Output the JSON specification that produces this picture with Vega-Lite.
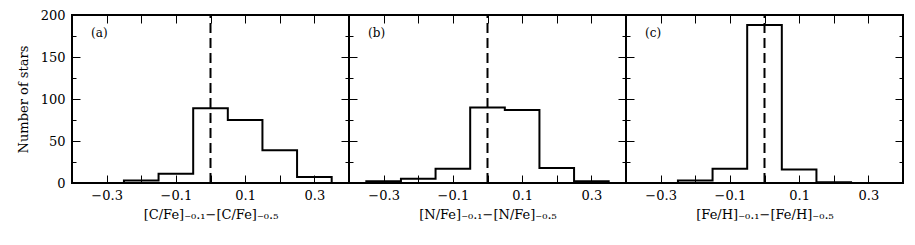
{
  "$schema": "https://vega.github.io/schema/vega-lite/v6.json",
  "padding": {"left": 16, "top": 8, "right": 5, "bottom": 5},
  "background": "white",
  "spacing": 0,
  "bounds": "flush",
  "datasets": {
    "hist": [
      {"panel": "a", "i": 0, "x": -0.35, "count": 0},
      {"panel": "a", "i": 1, "x": -0.25, "count": 3},
      {"panel": "a", "i": 2, "x": -0.15, "count": 11},
      {"panel": "a", "i": 3, "x": -0.05, "count": 89},
      {"panel": "a", "i": 4, "x": 0.05, "count": 75},
      {"panel": "a", "i": 5, "x": 0.15, "count": 39},
      {"panel": "a", "i": 6, "x": 0.25, "count": 7},
      {"panel": "a", "i": 7, "x": 0.35, "count": 0},
      {"panel": "b", "i": 0, "x": -0.35, "count": 0},
      {"panel": "b", "i": 1, "x": -0.35, "count": 2},
      {"panel": "b", "i": 2, "x": -0.25, "count": 5},
      {"panel": "b", "i": 3, "x": -0.15, "count": 17},
      {"panel": "b", "i": 4, "x": -0.05, "count": 90},
      {"panel": "b", "i": 5, "x": 0.05, "count": 87},
      {"panel": "b", "i": 6, "x": 0.15, "count": 18},
      {"panel": "b", "i": 7, "x": 0.25, "count": 2},
      {"panel": "b", "i": 8, "x": 0.35, "count": 0},
      {"panel": "c", "i": 0, "x": -0.35, "count": 0},
      {"panel": "c", "i": 1, "x": -0.25, "count": 3},
      {"panel": "c", "i": 2, "x": -0.15, "count": 17},
      {"panel": "c", "i": 3, "x": -0.05, "count": 188},
      {"panel": "c", "i": 4, "x": 0.05, "count": 16},
      {"panel": "c", "i": 5, "x": 0.15, "count": 1},
      {"panel": "c", "i": 6, "x": 0.25, "count": 0}
    ]
  },
  "hconcat": [
    {
      "width": 277, "height": 168,
      "resolve": {"axis": {"x": "independent", "y": "independent"}},
      "layer": [
        {
          "data": {"name": "hist"},
          "transform": [{"filter": "datum.panel === 'a'"}],
          "mark": {"type": "line", "interpolate": "step-after", "color": "black", "strokeWidth": 2},
          "encoding": {
            "x": {"field": "x", "type": "quantitative", "scale": {"domain": [-0.4, 0.4], "nice": false},
              "axis": {"orient": "bottom", "values": [-0.3, -0.2, -0.1, 0, 0.1, 0.2, 0.3], "format": ".1f",
                "labelExpr": "abs(round(datum.value*10)) % 2 == 1 ? datum.label : ''",
                "tickSize": -8, "labelPadding": 14, "titlePadding": 6,
                "title": "[C/Fe]₋₀.₁−[C/Fe]₋₀.₅"}},
            "y": {"field": "count", "type": "quantitative", "scale": {"domain": [0, 200], "nice": false},
              "axis": {"orient": "left", "values": [0, 25, 50, 75, 100, 125, 150, 175, 200],
                "labelExpr": "datum.value % 50 === 0 ? datum.label : ''",
                "tickSize": {"condition": {"test": "datum.value % 50 === 0", "value": -8}, "value": -4},
                "labelPadding": 15, "titlePadding": 10, "title": "Number of stars"}},
            "order": {"field": "i", "type": "quantitative"}
          }
        },
        {
          "data": {"values": [{"value": 0}]},
          "mark": {"type": "rule", "strokeDash": [10, 5], "strokeWidth": 2, "color": "black"},
          "encoding": {
            "x": {"field": "value", "type": "quantitative",
              "axis": {"orient": "top", "values": [-0.3, -0.2, -0.1, 0, 0.1, 0.2, 0.3], "labels": false, "tickSize": -8, "title": null}},
            "y": {"datum": 0, "type": "quantitative",
              "axis": {"orient": "right", "values": [0, 25, 50, 75, 100, 125, 150, 175, 200], "labels": false,
                "tickSize": {"condition": {"test": "datum.value % 50 === 0", "value": -8}, "value": -4}, "title": null}},
            "y2": {"datum": 200}
          }
        },
        {
          "data": {"values": [{"label": "(a)"}]},
          "mark": {"type": "text", "align": "left", "baseline": "middle", "font": "DejaVu Serif, Liberation Serif, serif", "fontSize": 12, "color": "black"},
          "encoding": {
            "x": {"datum": -0.345, "type": "quantitative", "axis": null},
            "y": {"datum": 178, "type": "quantitative", "axis": null},
            "text": {"field": "label"}
          }
        }
      ]
    },
    {
      "width": 277, "height": 168,
      "resolve": {"axis": {"x": "independent", "y": "independent"}},
      "layer": [
        {
          "data": {"name": "hist"},
          "transform": [{"filter": "datum.panel === 'b'"}],
          "mark": {"type": "line", "interpolate": "step-after", "color": "black", "strokeWidth": 2},
          "encoding": {
            "x": {"field": "x", "type": "quantitative", "scale": {"domain": [-0.4, 0.4], "nice": false},
              "axis": {"orient": "bottom", "values": [-0.3, -0.2, -0.1, 0, 0.1, 0.2, 0.3], "format": ".1f",
                "labelExpr": "abs(round(datum.value*10)) % 2 == 1 ? datum.label : ''",
                "tickSize": -8, "labelPadding": 14, "titlePadding": 6,
                "title": "[N/Fe]₋₀.₁−[N/Fe]₋₀.₅"}},
            "y": {"field": "count", "type": "quantitative", "scale": {"domain": [0, 200], "nice": false},
              "axis": {"orient": "left", "values": [0, 25, 50, 75, 100, 125, 150, 175, 200], "labels": false,
                "tickSize": {"condition": {"test": "datum.value % 50 === 0", "value": -8}, "value": -4}, "title": null}},
            "order": {"field": "i", "type": "quantitative"}
          }
        },
        {
          "data": {"values": [{"value": 0}]},
          "mark": {"type": "rule", "strokeDash": [10, 5], "strokeWidth": 2, "color": "black"},
          "encoding": {
            "x": {"field": "value", "type": "quantitative",
              "axis": {"orient": "top", "values": [-0.3, -0.2, -0.1, 0, 0.1, 0.2, 0.3], "labels": false, "tickSize": -8, "title": null}},
            "y": {"datum": 0, "type": "quantitative",
              "axis": {"orient": "right", "values": [0, 25, 50, 75, 100, 125, 150, 175, 200], "labels": false,
                "tickSize": {"condition": {"test": "datum.value % 50 === 0", "value": -8}, "value": -4}, "title": null}},
            "y2": {"datum": 200}
          }
        },
        {
          "data": {"values": [{"label": "(b)"}]},
          "mark": {"type": "text", "align": "left", "baseline": "middle", "font": "DejaVu Serif, Liberation Serif, serif", "fontSize": 12, "color": "black"},
          "encoding": {
            "x": {"datum": -0.345, "type": "quantitative", "axis": null},
            "y": {"datum": 178, "type": "quantitative", "axis": null},
            "text": {"field": "label"}
          }
        }
      ]
    },
    {
      "width": 277, "height": 168,
      "resolve": {"axis": {"x": "independent", "y": "independent"}},
      "layer": [
        {
          "data": {"name": "hist"},
          "transform": [{"filter": "datum.panel === 'c'"}],
          "mark": {"type": "line", "interpolate": "step-after", "color": "black", "strokeWidth": 2},
          "encoding": {
            "x": {"field": "x", "type": "quantitative", "scale": {"domain": [-0.4, 0.4], "nice": false},
              "axis": {"orient": "bottom", "values": [-0.3, -0.2, -0.1, 0, 0.1, 0.2, 0.3], "format": ".1f",
                "labelExpr": "abs(round(datum.value*10)) % 2 == 1 ? datum.label : ''",
                "tickSize": -8, "labelPadding": 14, "titlePadding": 6,
                "title": "[Fe/H]₋₀.₁−[Fe/H]₋₀.₅"}},
            "y": {"field": "count", "type": "quantitative", "scale": {"domain": [0, 200], "nice": false},
              "axis": {"orient": "left", "values": [0, 25, 50, 75, 100, 125, 150, 175, 200], "labels": false,
                "tickSize": {"condition": {"test": "datum.value % 50 === 0", "value": -8}, "value": -4}, "title": null}},
            "order": {"field": "i", "type": "quantitative"}
          }
        },
        {
          "data": {"values": [{"value": 0}]},
          "mark": {"type": "rule", "strokeDash": [10, 5], "strokeWidth": 2, "color": "black"},
          "encoding": {
            "x": {"field": "value", "type": "quantitative",
              "axis": {"orient": "top", "values": [-0.3, -0.2, -0.1, 0, 0.1, 0.2, 0.3], "labels": false, "tickSize": -8, "title": null}},
            "y": {"datum": 0, "type": "quantitative",
              "axis": {"orient": "right", "values": [0, 25, 50, 75, 100, 125, 150, 175, 200], "labels": false,
                "tickSize": {"condition": {"test": "datum.value % 50 === 0", "value": -8}, "value": -4}, "title": null}},
            "y2": {"datum": 200}
          }
        },
        {
          "data": {"values": [{"label": "(c)"}]},
          "mark": {"type": "text", "align": "left", "baseline": "middle", "font": "DejaVu Serif, Liberation Serif, serif", "fontSize": 12, "color": "black"},
          "encoding": {
            "x": {"datum": -0.345, "type": "quantitative", "axis": null},
            "y": {"datum": 178, "type": "quantitative", "axis": null},
            "text": {"field": "label"}
          }
        }
      ]
    }
  ],
  "config": {
    "view": {"stroke": "black", "strokeWidth": 2},
    "axis": {
      "domain": false, "grid": false,
      "tickColor": "black", "tickWidth": 1,
      "labelFont": "DejaVu Serif, Liberation Serif, serif", "labelFontSize": 13, "labelColor": "black",
      "titleFont": "DejaVu Serif, Liberation Serif, serif", "titleFontSize": 13, "titleFontWeight": "normal", "titleColor": "black",
      "labelOverlap": false, "labelFlush": false
    }
  }
}
